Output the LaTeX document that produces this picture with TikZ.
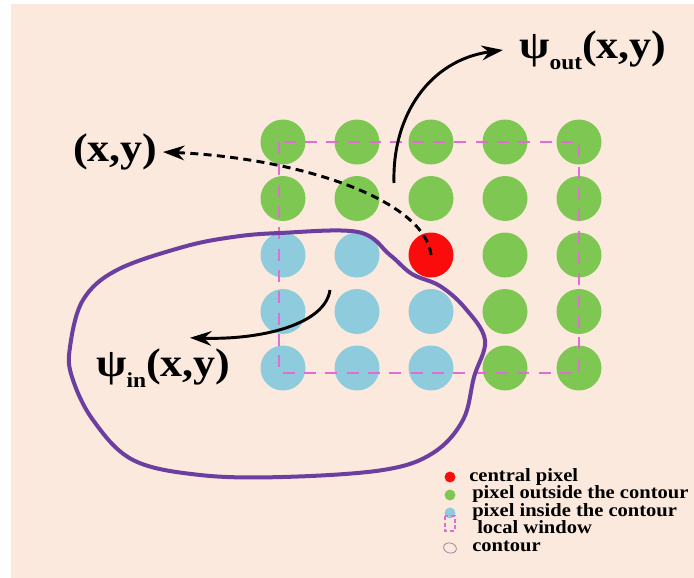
\documentclass[tikz,border=0pt]{standalone}
\usepackage{fontspec}
\setmainfont[FakeStretch=1.1]{Liberation Serif}
\usetikzlibrary{arrows.meta}
\definecolor{bgpeach}{RGB}{251,233,221}
\definecolor{pixgreen}{RGB}{126,199,82}
\definecolor{pixblue}{RGB}{142,203,220}
\definecolor{pixred}{RGB}{250,12,12}
\definecolor{winpink}{RGB}{222,110,212}
\definecolor{cntpurple}{RGB}{108,62,160}
\newcommand{\psisub}[1]{ψ\raisebox{-0.27em}{\fontsize{16}{16}\selectfont #1}}
\begin{document}
\begin{tikzpicture}[>={Stealth[length=16pt,width=11pt]},x=0.75pt,y=-0.75pt,
	pix/.style={circle,minimum size=33.75pt,inner sep=0pt,draw=none},
	pixout/.style={pix,fill=pixgreen},
	pixin/.style={pix,fill=pixblue},
	pixctr/.style={pix,fill=pixred},
	biglab/.style={font=\fontsize{30}{32}\selectfont\bfseries,inner sep=3pt},
	leglab/.style={font=\fontsize{14}{15}\selectfont\bfseries,anchor=base west,inner sep=0pt}]
		\useasboundingbox (0,0) rectangle (694,578);
		\fill[white] (0,0) rectangle (694,578);
		\fill[bgpeach] (11,4) rectangle (694,578);
		\foreach \row in {0,...,4}
		\foreach \col in {0,...,4}{
			\def\kind{pixout}
			\ifnum\row>1 \ifnum\col<3 \def\kind{pixin}\fi\fi
			\ifnum\row=2 \ifnum\col=2 \def\kind{pixctr}\fi\fi
			\node[\kind] (p-\row-\col) at ({283+74*\col},{142+56.5*\row}) {};
		}
		\draw[winpink,line width=1.2pt,dash pattern=on 9pt off 7pt] (279,142) rectangle (579,373);
		\draw[cntpurple,line width=3pt] plot[smooth cycle,tension=0.6] coordinates {(280,233) (358,232) (390,255) (412,274) (440,286) (465,308) (485,340) (474,377) (463,420) (433,453) (383,470) (283,477) (200,475) (133,460) (93,420) (72,377) (70,347) (83,300) (117,270) (183,247) (233,237)};
		\node[biglab,anchor=east,inner xsep=4pt] (xy) at (163,152) {(x,y)};
		\node[biglab,anchor=west,inner xsep=12pt] (psiout) at (503,50) {\psisub{out}(x,y)};
		\node[biglab,anchor=west] (psiin) at (92,368) {\psisub{in}(x,y)};
		\coordinate (outstart) at (394,183);
		\coordinate (instart) at (330,290);
		\draw[->,line width=2.2pt] (outstart) .. controls (392,115) and (430,60) .. (psiout.west);
		\draw[->,line width=2.2pt] (instart) .. controls (325,325) and (260,340) .. ([xshift=73.5pt,yshift=5pt]psiin.north west);
		\draw[->,line width=2.2pt,dash pattern=on 6pt off 4pt] (p-2-2.center) .. controls (425,200) and (300,158) .. (xy.east);
		\fill[pixred] (450,477) circle (4.1pt);
		\fill[pixgreen] (450,495) circle (4.1pt);
		\fill[pixblue] (450,513) circle (4.1pt);
		\draw[winpink,line width=0.8pt,dash pattern=on 3pt off 2pt] (445,516) rectangle (455,531);
		\draw[black!50!cntpurple!60,line width=0.5pt] (450,548) ellipse [x radius=6.5,y radius=5,rotate=-15];
		\node[leglab] (lg-ctr) at (469,481) {central pixel};
		\node[leglab] (lg-out) at (472,498.5) {pixel outside the contour};
		\node[leglab] (lg-in) at (472,516) {pixel inside the contour};
		\node[leglab] (lg-win) at (477,533.5) {local window};
		\node[leglab] (lg-cnt) at (472,551) {contour};
		\end{tikzpicture}
\end{document}
